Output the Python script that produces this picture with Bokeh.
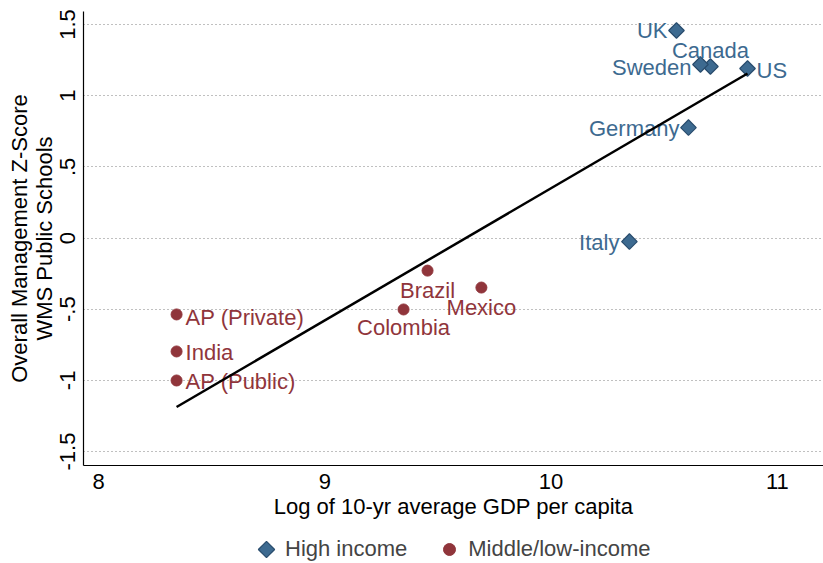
import math
import numpy as np
from bokeh.plotting import figure
from bokeh.layouts import column
from bokeh.models import ColumnDataSource, Range1d, FixedTicker, Legend, LegendItem
from bokeh.core.properties import value
from bokeh.embed import file_html
from bokeh.resources import INLINE

# ---- data ----
high_names = ["UK", "Canada", "Sweden", "US", "Germany", "Italy"]
high_gdp = [10.554, 10.704, 10.660, 10.868, 10.607, 10.346]
high_mgmt = [1.458, 1.205, 1.219, 1.191, 0.776, -0.025]

low_names = ["Brazil", "Mexico", "Colombia", "AP (Private)", "India", "AP (Public)"]
low_gdp = [9.454, 9.692, 9.348, 8.345, 8.345, 8.345]
low_mgmt = [-0.229, -0.348, -0.502, -0.537, -0.797, -1.001]

fit_gdp = [8.345, 10.868]
fit_mgmt = [-1.187, 1.156]

x_ticks = [8, 9, 10, 11]
y_ticks = [-1.5, -1, -0.5, 0, 0.5, 1, 1.5]
y_tick_labels = ["-1.5", "-1", "-.5", "0", ".5", "1", "1.5"]
legend_labels = ["High income", "Middle/low-income"]

# ---- label placement (style) ----
label_style = {
    "UK": ("right", -9, 0),
    "Canada": ("center", 0, -16),
    "Sweden": ("right", -9, 3),
    "US": ("left", 9, 2),
    "Germany": ("right", -9, 1),
    "Italy": ("right", -10, 1),
    "Brazil": ("center", 0, 20),
    "Mexico": ("center", 0, 20),
    "Colombia": ("center", 0, 18),
    "AP (Private)": ("left", 9, 3),
    "India": ("left", 9, 1),
    "AP (Public)": ("left", 9, 1),
}

BLUE = "#3d6a90"
BLUE_EDGE = "#2a4d6e"
RED = "#90353b"
FONT = "Liberation Sans"
FS = "22px"

W, H = 823, 525
FRAME_LEFT = 83
LEG_H = 38

p = figure(width=W, height=H,
           x_range=Range1d(7.9337, 11.2037), y_range=Range1d(-1.5982, 1.5914),
           output_backend="svg", toolbar_location=None,
           min_border_left=FRAME_LEFT, min_border_right=0, min_border_top=11, min_border_bottom=60)
p.outline_line_color = None

# axes
p.xaxis.ticker = FixedTicker(ticks=x_ticks)
p.yaxis.ticker = FixedTicker(ticks=y_ticks)
p.yaxis.major_label_overrides = {t: l for t, l in zip(y_ticks, y_tick_labels)}
p.yaxis.major_label_orientation = "parallel"
for ax in (p.xaxis[0], p.yaxis[0]):
    ax.axis_line_color = "black"
    ax.axis_line_width = 1.2
    ax.major_tick_out = 0
    ax.major_tick_in = 0
    ax.minor_tick_out = 0
    ax.minor_tick_in = 0
    ax.major_label_text_font = FONT
    ax.major_label_text_font_size = FS
    ax.major_label_text_color = "black"
    ax.axis_label_text_font = FONT
    ax.axis_label_text_font_size = FS
    ax.axis_label_text_font_style = "normal"
    ax.axis_label_text_color = "black"
p.xaxis.axis_label = "Log of 10-yr average GDP per capita"
p.yaxis.axis_label = "Overall Management Z-Score\nWMS Public Schools"
p.yaxis.axis_label_text_line_height = 1.0
p.xaxis.major_label_standoff = 8
p.xaxis.axis_label_standoff = 2
p.yaxis.major_label_standoff = 8
p.yaxis.axis_label_standoff = 1

p.xgrid.grid_line_color = None
p.ygrid.grid_line_color = "#808080"
p.ygrid.grid_line_dash = "1 3"
p.ygrid.grid_line_width = 1

HIGH_STYLE = dict(marker="square", angle=math.pi / 4, size=11,
                  fill_color=BLUE, line_color=BLUE_EDGE, line_width=1.2)
LOW_STYLE = dict(marker="circle", size=11, fill_color=RED, line_color=RED)

# markers
hs = ColumnDataSource(dict(x=high_gdp, y=high_mgmt, name=high_names))
ls = ColumnDataSource(dict(x=low_gdp, y=low_mgmt, name=low_names))
p.scatter("x", "y", source=hs, **HIGH_STYLE)
p.scatter("x", "y", source=ls, **LOW_STYLE)

# labels
def label_source(names, xs, ys):
    d = dict(x=[], y=[], t=[], align=[], xo=[], yo=[])
    for n, x, y in zip(names, xs, ys):
        a, xo, yo = label_style[n]
        d["x"].append(x); d["y"].append(y); d["t"].append(n)
        d["align"].append(a); d["xo"].append(xo); d["yo"].append(yo)
    return ColumnDataSource(d)

for names, xs, ys, col in ((high_names, high_gdp, high_mgmt, BLUE),
                           (low_names, low_gdp, low_mgmt, RED)):
    p.text("x", "y", text="t", source=label_source(names, xs, ys),
           x_offset="xo", y_offset="yo", text_align="align", text_baseline="middle",
           text_font=value(FONT), text_font_size=FS, text_color=col)

# fitted line
p.line(fit_gdp, fit_mgmt, line_color="black", line_width=2.5)

# ---- legend strip below the chart ----
LEG_X, LEG_Y, GLYPH = 168, -1, 30
lf = figure(width=W, height=LEG_H,
            x_range=Range1d(0, W - FRAME_LEFT), y_range=Range1d(0, LEG_H),
            output_backend="svg", toolbar_location=None,
            x_axis_location=None, y_axis_location=None,
            min_border_left=0, min_border_right=0, min_border_top=0, min_border_bottom=0)
lf.outline_line_color = None
lf.xgrid.visible = False
lf.ygrid.visible = False
nan_src = ColumnDataSource(dict(x=np.array([np.nan]), y=np.array([np.nan])))
# legend glyph for the diamond is drawn separately (legends ignore marker angle)
lh = lf.scatter("x", "y", source=nan_src, marker="square", size=1,
                fill_alpha=0, line_alpha=0)
ll = lf.scatter("x", "y", source=nan_src, **LOW_STYLE)
legend = Legend(items=[LegendItem(label=legend_labels[0], renderers=[lh]),
                       LegendItem(label=legend_labels[1], renderers=[ll])],
                orientation="horizontal", location=(LEG_X, LEG_Y),
                border_line_color=None, background_fill_alpha=0,
                label_text_font=FONT, label_text_font_size=FS,
                glyph_width=GLYPH, glyph_height=GLYPH, label_standoff=4, spacing=27,
                margin=0, padding=0)
lf.add_layout(legend, "center")
diamond_style = dict(HIGH_STYLE, size=11.5)
lf.scatter(x=[LEG_X + GLYPH / 2], y=[LEG_Y + GLYPH / 2], **diamond_style)

layout = column(p, lf, spacing=0)
open("out.html", "w").write(file_html(layout, INLINE))
